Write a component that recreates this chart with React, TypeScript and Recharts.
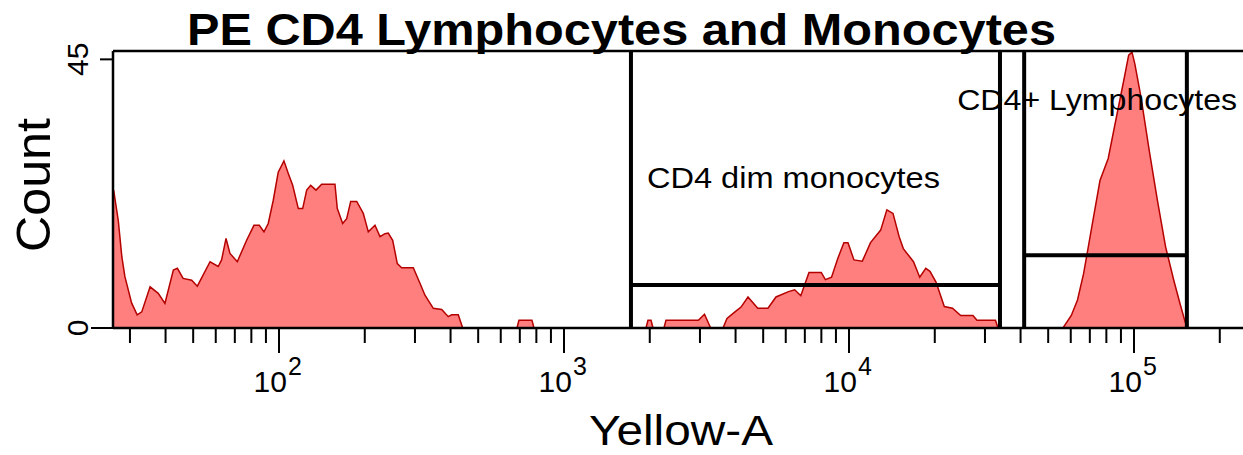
import React from 'react';
import { AreaChart, Area, XAxis, YAxis, ReferenceLine } from 'recharts';

// Yellow-A channel values (log scale) and event counts
const yellowA = [
  26.3, 27.3, 28.1, 28.8, 30.4, 31.8, 33.0, 35.3, 37.7, 39.8,
  42.6, 44.0, 46.1, 49.4, 51.7, 57.3, 61.2, 62.9, 65.2, 67.3,
  71.4, 77.0, 81.7, 85.3, 88.6, 91.7, 95.5, 99.4, 104.1, 107.8,
  111.7, 116.9, 121.1, 125.1, 129.2, 134.9, 141.2, 157.2, 160.2, 167.3,
  172.8, 178.5, 187.4, 197.6, 205.8, 217.2, 226.2, 235.5, 241.8, 250.6,
  260.1, 269.5, 296.0, 312.4, 325.3, 347.9, 372.3, 392.6, 403.6, 425.7,
  441.2, 684, 695, 772, 785, 1940, 1971, 2020, 2053, 2243,
  2280, 2962, 3112, 3271, 3613, 3732, 3981, 4180, 4422, 4786,
  5196, 5545, 6135, 6450, 6775, 7239, 7993, 8263, 8686, 9129,
  9596, 9920, 10410, 11140, 11900, 12920, 13580, 14270, 15000, 15510,
  16840, 17710, 18600, 19240, 20200, 21600, 23080, 24660, 27230, 28120,
  32660, 33330, 56340, 60260, 63360, 66560, 71100, 75980, 81200, 86750,
  92100, 95800, 98400, 100650, 105800, 113050, 120800, 129100, 137900, 145000,
  151200, 154700,
];

const counts = [
  23.1, 18, 11.9, 8.6, 4.2, 2.2, 2.7, 6.9, 5.8, 4.1,
  9.7, 10, 8.3, 8, 7, 11.1, 10.3, 11.4, 15, 12.5,
  11.1, 14.7, 17.2, 17.2, 16.1, 17.5, 21.4, 26.1, 28, 25.9,
  23.9, 20, 20, 23.1, 23.9, 23.1, 24.1, 24.1, 20, 17.5,
  18.3, 21.2, 21.2, 19.2, 16.1, 17.2, 15.3, 15.8, 15.9, 14.7,
  10.8, 10.1, 10.1, 7.5, 5.5, 3.3, 3.1, 1.9, 2.2, 2.2,
  0, 0, 1.3, 1.3, 0, 0, 1.3, 1.3, 0, 0,
  1.3, 1.3, 2.3, 0, 0, 1.6, 2.7, 3.5, 5.2, 3.3,
  3.3, 5.2, 6.1, 6.4, 5.4, 9.3, 9.3, 8.1, 8.5, 11.6,
  14.3, 14.3, 11.4, 11.2, 14.3, 16.4, 19.8, 19.2, 15.3, 13.3,
  11.1, 8.5, 10, 9.5, 7.7, 3.6, 3.3, 2.1, 2.1, 1.3,
  1.3, 0, 0, 2.1, 4.7, 9.1, 16.9, 24.7, 28.4, 35.3,
  41.5, 45.7, 46.2, 44.3, 38.7, 29.8, 21.4, 13.6, 8, 4.1,
  1, 0,
];

// gates: [low, high] on Yellow-A, and the height of the gate's bar
const monoGate = [1718, 33870];
const monoGateLevel = 7.2;
const lymphGate = [41180, 153300];
const lymphGateLevel = 12.2;

const majorTicks = [100, 1000, 10000, 100000];
const minorSteps = [2, 3, 4, 5, 6, 7, 8, 9];
const yTicks = [0, 45];

const xDomain = [26.16, 276800];
const yMax = 46.4;

const data = yellowA.map((v, i) => ({ v, count: counts[i] }));

const xTicks: number[] = [];
[10, ...majorTicks].forEach((d) => {
  if (d >= xDomain[0]) xTicks.push(d);
  minorSteps.forEach((m) => {
    const t = d * m;
    if (t >= xDomain[0] && t <= xDomain[1]) xTicks.push(t);
  });
});

const FONT = '"Liberation Sans", Arial, sans-serif';

const XTick = (props: any) => {
  const { x, y, payload } = props;
  const v = payload.value;
  const exp = Math.round(Math.log10(v));
  const major = majorTicks.includes(v);
  return (
    <g>
      <line x1={x} x2={x} y1={y} y2={y + (major ? 25 : 15)} stroke="#000" strokeWidth={2} />
      {major && (
        <g fontFamily={FONT} fill="#000">
          <text x={x + 8} y={y + 64} fontSize={30} textAnchor="end">10</text>
          <text x={x + 9} y={y + 47} fontSize={25} textAnchor="start">{exp}</text>
        </g>
      )}
    </g>
  );
};

const YTick = (props: any) => {
  const { x, y, payload } = props;
  const len = payload.value === 0 ? 22 : 13;
  return (
    <g>
      <line x1={x - len} x2={x} y1={y} y2={y} stroke="#000" strokeWidth={2} />
      <text
        x={x - 25}
        y={y}
        transform={`rotate(-90 ${x - 25} ${y})`}
        textAnchor="middle"
        fontSize={30}
        fontFamily={FONT}
        fill="#000"
      >
        {payload.value}
      </text>
    </g>
  );
};

const GateLabel = (props: any) => {
  const { viewBox, text, dx, dy, width } = props;
  return (
    <text
      x={viewBox.x + dx}
      y={viewBox.y + dy}
      fontSize={30}
      fontFamily={FONT}
      fill="#000"
      textLength={width}
      lengthAdjust="spacingAndGlyphs"
    >
      {text}
    </text>
  );
};

export default function App() {
  return (
    <div
      style={{
        position: 'absolute',
        left: 0,
        top: 0,
        width: 1243,
        height: 455,
        overflow: 'hidden',
        background: '#fff',
      }}
    >
      <AreaChart
        width={1270}
        height={455}
        data={data}
        margin={{ top: 51, right: 10, left: 53, bottom: 67 }}
      >
        <XAxis
          dataKey="v"
          type="number"
          scale="log"
          domain={xDomain}
          allowDataOverflow
          ticks={xTicks}
          interval={0}
          tickLine={false}
          tickSize={0}
          tickMargin={0}
          height={60}
          axisLine={{ stroke: '#000', strokeWidth: 2.5 }}
          tick={<XTick />}
        />
        <YAxis
          type="number"
          domain={[0, yMax]}
          ticks={yTicks}
          interval={0}
          tickLine={false}
          tickSize={0}
          tickMargin={0}
          width={60}
          axisLine={{ stroke: '#000', strokeWidth: 2.5 }}
          tick={<YTick />}
        />
        <Area
          type="linear"
          dataKey="count"
          stroke="#b50000"
          strokeWidth={1.5}
          fill="#ff7f7f"
          fillOpacity={1}
          isAnimationActive={false}
          dot={false}
          activeDot={false}
        />
        <ReferenceLine y={yMax} stroke="#000" strokeWidth={2.5} />
        <ReferenceLine
          x={monoGate[0]}
          stroke="#000"
          strokeWidth={4}
          label={<GateLabel text="CD4 dim monocytes" dx={16} dy={137} width={293} />}
        />
        <ReferenceLine x={monoGate[1]} stroke="#000" strokeWidth={4} />
        <ReferenceLine
          segment={[
            { x: monoGate[0], y: monoGateLevel },
            { x: monoGate[1], y: monoGateLevel },
          ]}
          stroke="#000"
          strokeWidth={4}
        />
        <ReferenceLine
          x={lymphGate[0]}
          stroke="#000"
          strokeWidth={4}
          label={<GateLabel text="CD4+ Lymphocytes" dx={-67} dy={59} width={280} />}
        />
        <ReferenceLine x={lymphGate[1]} stroke="#000" strokeWidth={4} />
        <ReferenceLine
          segment={[
            { x: lymphGate[0], y: lymphGateLevel },
            { x: lymphGate[1], y: lymphGateLevel },
          ]}
          stroke="#000"
          strokeWidth={4}
        />
      </AreaChart>
      <svg
        width={1243}
        height={455}
        style={{ position: 'absolute', left: 0, top: 0, pointerEvents: 'none' }}
        fontFamily={FONT}
      >
        <text
          x={187}
          y={45}
          fontSize={45}
          fontWeight="bold"
          textLength={869}
          lengthAdjust="spacingAndGlyphs"
        >
          PE CD4 Lymphocytes and Monocytes
        </text>
        <text
          x={50}
          y={185}
          fontSize={48}
          textAnchor="middle"
          transform="rotate(-90 50 185)"
          textLength={134}
          lengthAdjust="spacingAndGlyphs"
        >
          Count
        </text>
        <text x={589} y={445} fontSize={43} textLength={184} lengthAdjust="spacingAndGlyphs">
          Yellow-A
        </text>
      </svg>
    </div>
  );
}
